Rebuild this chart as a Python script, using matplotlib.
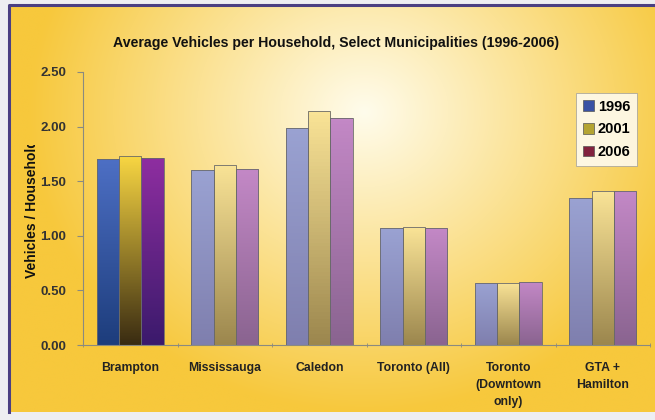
import numpy as np
import matplotlib
matplotlib.use('Agg')
import matplotlib.pyplot as plt
from matplotlib.colors import to_rgb
from matplotlib.patches import Patch
from matplotlib.transforms import Bbox, TransformedBbox

# data
categories = ['Brampton', 'Mississauga', 'Caledon', 'Toronto (All)',
              'Toronto\n(Downtown\nonly)', 'GTA +\nHamilton']
years = ['1996', '2001', '2006']
v1996 = [1.70, 1.60, 1.99, 1.07, 0.57, 1.35]
v2001 = [1.73, 1.65, 2.14, 1.08, 0.57, 1.41]
v2006 = [1.71, 1.61, 2.08, 1.07, 0.58, 1.41]
yticks = [0.0, 0.5, 1.0, 1.5, 2.0, 2.5]

# (top, bottom) gradient colours: highlighted group and the faded ones
strong = [('#4d6fc4', '#1d3d7c'), ('#f7d542', '#3a2c12'), ('#8e2ea0', '#3b1a6c')]
faded = [('#9aa2d2', '#7f7fae'), ('#f9e396', '#9c874e'), ('#c388c6', '#8a6490')]
legend_cols = ['#3a52a4', '#b4a432', '#82223e']

plt.rcParams['font.family'] = ['Liberation Sans', 'DejaVu Sans']

W, H = 655, 420
fig = plt.figure(figsize=(W / 100, H / 100), dpi=100)
fig.patch.set_facecolor('#eeeef2')

# background panel with radial gradient
bg = fig.add_axes([0, 0, 1, 1])
bg.set_xlim(0, W)
bg.set_ylim(H, 0)
bg.axis('off')
yy, xx = np.mgrid[0:H, 0:W]
d = np.sqrt(((xx - 360) / 340.0) ** 2 + ((yy - 110) / 310.0) ** 2)
t = np.clip(d, 0, 1)
c0 = np.array(to_rgb('#fffcec'))
c1 = np.array(to_rgb('#f7c83c'))
img = c0[None, None, :] * (1 - t[..., None]) + c1[None, None, :] * t[..., None]
bg.imshow(img, extent=[9, W, 412, 5], aspect='auto', zorder=0)
bg.plot([9, 9, W], [412, 5, 5], color='#4b3f82', lw=2.2, zorder=1)

ax = fig.add_axes([83 / W, 1 - 345 / H, 567 / W, 273 / H])
ax.patch.set_alpha(0)
x = np.arange(len(categories))
bw = 0.235
series = [v1996, v2001, v2006]
for k, vals in enumerate(series):
    bars = ax.bar(x + (k - 1) * bw, vals, bw, color='none',
                  edgecolor='#6a6a6a', linewidth=0.6, zorder=3, label=years[k])
    for i, b in enumerate(bars):
        top, bot = strong[k] if i == 0 else faded[k]
        g = np.linspace(0, 1, 64)[:, None, None]
        grad = np.array(to_rgb(top)) * (1 - g) + np.array(to_rgb(bot)) * g
        im = ax.imshow(grad, extent=[b.get_x(), b.get_x() + b.get_width(), 0, b.get_height()],
                       aspect='auto', zorder=2, origin='upper')
        im.set_clip_path(b)

ax.set_xlim(-0.5, len(categories) - 0.5)
ax.set_ylim(0, 2.5)
ax.set_yticks(yticks)
ax.set_yticklabels(['%.2f' % v for v in yticks])
ax.set_xticks(x)
ax.set_xticklabels(categories, fontsize=8.8, fontweight='bold', color='#222222',
                   linespacing=1.55, va='top')
ax.set_xticks(np.arange(len(categories) + 1) - 0.5, minor=True)
ax.tick_params(axis='x', which='major', length=0, pad=12)
ax.tick_params(axis='x', which='minor', length=3, direction='inout', color='#8a8a80')
ax.tick_params(axis='y', length=4, direction='out', color='#8a8a80', pad=8,
               labelsize=9.5, labelcolor='#333333')
for lbl in ax.get_yticklabels():
    lbl.set_fontweight('bold')
for s in ['top', 'right']:
    ax.spines[s].set_visible(False)
for s in ['left', 'bottom']:
    ax.spines[s].set_color('#8a8a80')
    ax.spines[s].set_linewidth(0.8)

lab = ax.set_ylabel('Vehicles / Household', fontsize=10, fontweight='bold',
                    color='#111111')
ax.yaxis.set_label_coords(-37 / 567 - 0.012, 0.5)
lab.set_clip_box(TransformedBbox(Bbox([[0, 0], [1, 1 - 145 / H]]), fig.transFigure))

fig.text(336 / W, 1 - 43 / H, 'Average Vehicles per Household, Select Municipalities (1996-2006)',
         ha='center', va='center', fontsize=10.2, fontweight='bold', color='#111111')

handles = [Patch(facecolor=c, edgecolor='#555555', linewidth=0.5) for c in legend_cols]
leg = ax.legend(handles, years, loc='upper left', bbox_to_anchor=(493 / 567, 1 - 21 / 273),
                frameon=True, fancybox=False, handlelength=0.75,
                handleheight=0.75, handletextpad=0.3, labelspacing=0.6,
                borderpad=0.45, borderaxespad=0, prop={'weight': 'bold', 'size': 10.5})
leg.get_frame().set_edgecolor('#999999')
leg.get_frame().set_linewidth(0.6)

fig.savefig('out.png', dpi=100)
